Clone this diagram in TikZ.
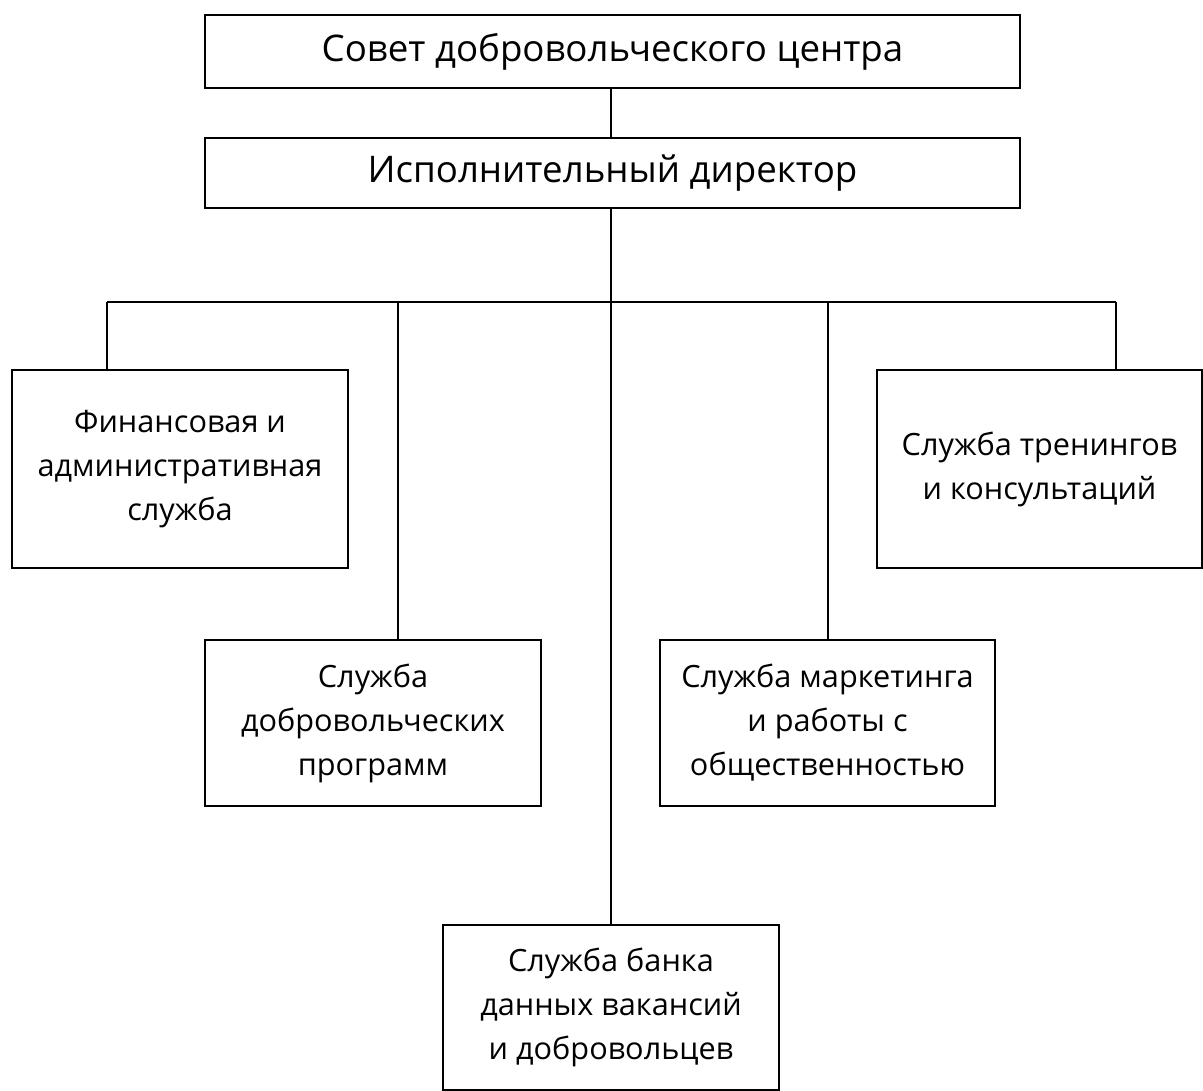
\documentclass[tikz,border=0pt]{standalone}
\usepackage{fontspec}
\setmainfont{Open Sans}
\begin{document}
\begin{tikzpicture}[x=0.75pt,y=-0.75pt,line width=1.1pt,
  box/.style={draw=black,rectangle,inner sep=0pt,align=center,font=\fontsize{23}{33}\selectfont},
  topbox/.style={draw=black,rectangle,inner sep=0pt,align=center,font=\fontsize{27.5}{33}\selectfont}]
\useasboundingbox (0,0) rectangle (1203,1091);
\node[topbox,minimum width=815*0.75pt,minimum height=73*0.75pt] (sov) at (612.5,51.5) {Совет добровольческого центра};
\node[topbox,minimum width=815*0.75pt,minimum height=70*0.75pt] (dir) at (612.5,173) {Исполнительный директор};
\node[box,minimum width=336*0.75pt,minimum height=198*0.75pt] (fin) at (180,469) {Финансовая и\\административная\\служба};
\node[box,minimum width=336*0.75pt,minimum height=166*0.75pt] (prog) at (373,723) {Служба\\добровольческих\\программ};
\node[box,minimum width=336*0.75pt,minimum height=165*0.75pt] (bank) at (611,1007.5) {Служба банка\\данных вакансий\\и добровольцев};
\node[box,minimum width=335*0.75pt,minimum height=166*0.75pt] (mark) at (827.5,723) {Служба маркетинга\\и работы с\\общественностью};
\node[box,minimum width=325*0.75pt,minimum height=198*0.75pt] (tren) at (1039.5,469) {Служба тренингов\\и консультаций};
\coordinate (j0) at (611,302);
\coordinate (j1) at (107,302);
\coordinate (j2) at (398,302);
\coordinate (j4) at (828,302);
\coordinate (j5) at (1116,302);
\draw (sov.south -| j0) -- (dir.north -| j0);
\draw (dir.south -| j0) -- (bank.north -| j0);
\draw (j1) -- (j5);
\draw (j1) -- (j1 |- fin.north);
\draw (j2) -- (j2 |- prog.north);
\draw (j4) -- (j4 |- mark.north);
\draw (j5) -- (j5 |- tren.north);
\end{tikzpicture}
\end{document}
